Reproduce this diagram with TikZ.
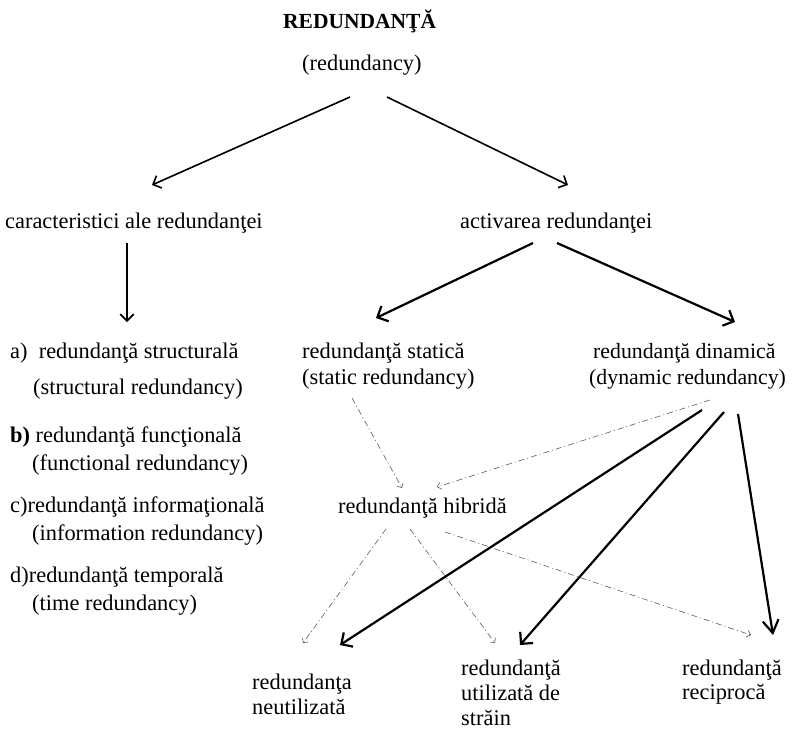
\documentclass[tikz,border=0pt]{standalone}
\usepackage{fontspec}
\setmainfont{Liberation Serif}
\usetikzlibrary{arrows.meta}
\tikzset{
  lbl/.style={anchor=base west, inner sep=0pt, align=left, font=\fontsize{22.4}{28}\selectfont},
  firm/.style={line width=1.6pt, -{Straight Barb[angle=90:9.5pt]}},
  heavy/.style={line width=2.2pt, -{Straight Barb[angle=90:12pt]}},
  hint/.style={line width=0.6pt, black!65, dash pattern=on 6pt off 3pt on 1pt off 3pt, -{Straight Barb[angle=90:5pt]}},
}
\begin{document}
\begin{tikzpicture}[x=1pt,y=-1pt]
\useasboundingbox (0,0) rectangle (792,729);

% labels (multi-line labels are placed by the baseline of their last line)
\node[lbl, font=\bfseries\fontsize{21.5}{26}\selectfont] (root) at (283,28) {REDUNDANŢĂ};
\node[lbl] (rooten) at (302,70) {(redundancy)};
\node[lbl] (car) at (5,228) {caracteristici ale redundanţei};
\node[lbl] (act) at (460,228) {activarea redundanţei};

\node[lbl] (ra) at (10,394) {a)~~redundanţă structurală\\[8pt]\hspace*{23pt}(structural redundancy)};
\node[lbl] (rb) at (10,470) {\textbf{b)} redundanţă funcţională\\\hspace*{22pt}(functional redundancy)};
\node[lbl] (rc) at (10,540) {c)redundanţă informaţională\\\hspace*{22pt}(information redundancy)};
\node[lbl] (rd) at (10,610) {d)redundanţă temporală\\\hspace*{22pt}(time redundancy)};

\node[lbl, font=\fontsize{22.4}{26}\selectfont] (sta) at (302,384) {redundanţă statică\\(static redundancy)};
\node[lbl, font=\fontsize{21.8}{26}\selectfont] (din) at (589,384) {\hspace*{4pt}redundanţă dinamică\\(dynamic redundancy)};
\node[lbl] (hib) at (338,513) {redundanţă hibridă};

\node[lbl, font=\fontsize{22.4}{25}\selectfont] (neu) at (252,714) {redundanţa\\neutilizată};
\node[lbl, font=\fontsize{22.4}{25}\selectfont] (uti) at (461,725) {redundanţă\\utilizată de\\străin};
\node[lbl, font=\fontsize{22.4}{24}\selectfont] (rec) at (682,699) {redundanţă\\reciprocă};

% connector end points
\coordinate (root-l) at (350,97);
\coordinate (root-r) at (387,97);
\coordinate (car-in) at (152,185);
\coordinate (act-in) at (568,185);
\coordinate (car-out) at (127,243);
\coordinate (car-end) at (127,322);
\coordinate (act-l) at (533,243);
\coordinate (act-r) at (557,243);
\coordinate (sta-in) at (376,318);
\coordinate (din-in) at (735,322);
\coordinate (sta-out) at (352,398);
\coordinate (din-dash) at (710,400);
\coordinate (din-1) at (702,410);
\coordinate (din-2) at (724,412);
\coordinate (din-3) at (738,414);
\coordinate (hib-in1) at (402,488);
\coordinate (hib-in2) at (437,487);
\coordinate (hib-1) at (386,529);
\coordinate (hib-2) at (410,529);
\coordinate (hib-3) at (445,532);
\coordinate (neu-dash) at (303,643);
\coordinate (uti-dash) at (495,643);
\coordinate (rec-dash) at (751,635);
\coordinate (neu-in) at (340,645);
\coordinate (uti-in) at (520,645);
\coordinate (rec-in) at (773,635);

% first levels
\draw[firm] (root-l) -- (car-in);
\draw[firm] (root-r) -- (act-in);
\draw[firm] (car-out) -- (car-end);
\draw[heavy] (act-l) -- (sta-in);
\draw[heavy] (act-r) -- (din-in);

% hybrid redundancy
\draw[hint] (sta-out) -- (hib-in1);
\draw[hint] (din-dash) -- (hib-in2);
\draw[hint] (hib-1) -- (neu-dash);
\draw[hint] (hib-2) -- (uti-dash);
\draw[hint] (hib-3) -- (rec-dash);

% dynamic redundancy
\draw[heavy] (din-1) -- (neu-in);
\draw[heavy] (din-2) -- (uti-in);
\draw[heavy, -{Straight Barb[angle=64:15pt]}] (din-3) -- (rec-in);
\end{tikzpicture}
\end{document}
